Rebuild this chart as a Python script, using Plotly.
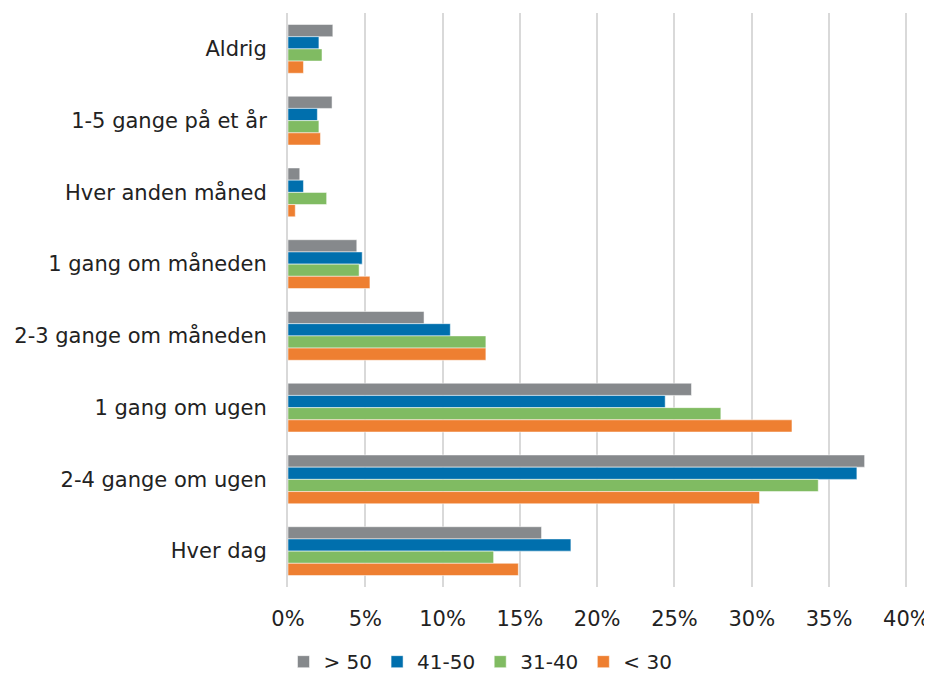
import plotly.graph_objects as go

categories = ["Aldrig", "1-5 gange på et år", "Hver anden måned", "1 gang om måneden",
              "2-3 gange om måneden", "1 gang om ugen", "2-4 gange om ugen", "Hver dag"]

over_50 = [2.9, 2.85, 0.76, 4.45, 8.8, 26.1, 37.3, 16.4]
age_41_50 = [2.0, 1.9, 1.0, 4.8, 10.5, 24.4, 36.8, 18.3]
age_31_40 = [2.2, 2.0, 2.5, 4.6, 12.8, 28.0, 34.3, 13.3]
under_30 = [1.0, 2.1, 0.47, 5.3, 12.8, 32.6, 30.5, 14.9]

series = [("> 50", over_50, "#86898c"),
          ("41-50", age_41_50, "#006fad"),
          ("31-40", age_31_40, "#80bb62"),
          ("< 30", under_30, "#ee7f31")]

tick_vals = [0, 5, 10, 15, 20, 25, 30, 35, 40]
tick_text = [f"{v}%" for v in tick_vals]

fig = go.Figure()
for name, vals, color in series:
    fig.add_trace(go.Bar(y=categories, x=vals, name=name, orientation='h',
                         marker=dict(color=color, line=dict(color='rgba(255,255,255,0.5)', width=1))))

# the page body has an 8px margin, so the figure is a bit smaller than the window
fig.update_layout(
    barmode='group', bargap=0.32, bargroupgap=0,
    width=924, height=667,
    margin=dict(l=280, r=21, t=5, b=88),
    plot_bgcolor='white', paper_bgcolor='white',
    font=dict(family="DejaVu Sans", size=21, color='#222222'),
    legend=dict(orientation='h', x=0.309, xanchor='center', yref='container', y=0.02, yanchor='middle',
                font=dict(size=20), itemwidth=30, traceorder='normal'),
    # range a bit past 40 so the 40% gridline is still drawn
    xaxis=dict(range=[0, 40.3], tickvals=tick_vals, ticktext=tick_text,
               showgrid=True, gridcolor='#d9d9d9', gridwidth=2, zeroline=False,
               ticks='outside', ticklen=13, tickcolor='rgba(0,0,0,0)', automargin=False,
               ticklabeloverflow='allow'),
    yaxis=dict(autorange='reversed', showline=True, linecolor='#d9d9d9', linewidth=2,
               ticks='outside', ticklen=15, tickcolor='rgba(0,0,0,0)', automargin=False),
)

fig.write_html("out.html")
